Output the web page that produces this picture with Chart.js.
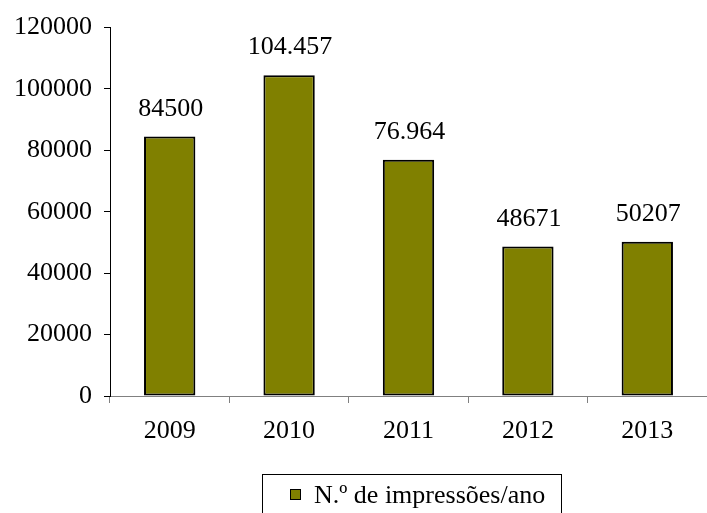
<!DOCTYPE html>
<html>
<head>
<meta charset="utf-8">
<style>
  html, body { margin: 0; padding: 0; background: #fff; }
  #wrap { width: 707px; height: 513px; }
</style>
<script src="https://cdn.jsdelivr.net/npm/chart.js@4/dist/chart.umd.min.js"></script>
</head>
<body>
<div id="wrap"><canvas id="chart" width="707" height="513"></canvas></div>
<script>
        // Data
        const years = ['2009', '2010', '2011', '2012', '2013'];
        const impressions = [84500, 104457, 76964, 48671, 50207];
        const valueLabels = ['84500', '104.457', '76.964', '48671', '50207'];
        const yTicks = [0, 20000, 40000, 60000, 80000, 100000, 120000];
        const seriesName = 'N.º de impressões/ano';

        const serif = '"Liberation Serif", "Times New Roman", serif';
        const olive = '#808000';

        // Value labels above the bars
        const valueLabelPlugin = {
            id: 'valueLabels',
            afterDatasetsDraw(chart) {
                const ctx = chart.ctx;
                const meta = chart.getDatasetMeta(0);
                ctx.save();
                ctx.font = '26px ' + serif;
                ctx.fillStyle = '#000';
                ctx.textAlign = 'center';
                ctx.textBaseline = 'alphabetic';
                meta.data.forEach((bar, i) => {
                    ctx.fillText(valueLabels[i], bar.x + 1, bar.y - 21);
                });
                ctx.restore();
            }
        };

        // Framed legend at the bottom
        const legendBoxPlugin = {
            id: 'legendBox',
            afterDraw(chart) {
                const ctx = chart.ctx;
                ctx.save();
                ctx.strokeStyle = '#000';
                ctx.lineWidth = 1;
                ctx.strokeRect(262.5, 474.5, 299, 50);
                // marker
                ctx.fillStyle = olive;
                ctx.fillRect(290, 489, 11, 11);
                ctx.strokeRect(290.5, 489.5, 10, 10);
                ctx.font = '26px ' + serif;
                ctx.fillStyle = '#000';
                ctx.textBaseline = 'alphabetic';
                ctx.fillText(seriesName, 314, 503);
                ctx.restore();
            }
        };

        const myChart = new Chart(document.getElementById('chart'), {
            type: 'bar',
            data: {
                labels: years,
                datasets: [{
                    label: seriesName,
                    data: impressions,
                    backgroundColor: olive,
                    borderColor: '#000',
                    borderWidth: 2,
                    borderSkipped: false,
                    barPercentage: 0.43,
                    categoryPercentage: 1
                }]
            },
            options: {
                responsive: false,
                animation: false,
                layout: { padding: { top: 26, right: 0, left: 0, bottom: 0 } },
                plugins: {
                    legend: { display: false },
                    tooltip: { enabled: false }
                },
                scales: {
                    x: {
                        offset: true,
                        grid: {
                            display: true,
                            offset: true,
                            drawOnChartArea: false,
                            drawTicks: true,
                            tickLength: 7,
                            color: '#808080'
                        },
                        border: { display: true, color: '#808080', width: 1 },
                        ticks: {
                            color: '#000',
                            font: { family: serif, size: 26 },
                            padding: 13,
                            maxRotation: 0
                        },
                        afterFit(scale) { scale.height = 117; }
                    },
                    y: {
                        min: 0,
                        max: 120000,
                        afterBuildTicks(scale) {
                            scale.ticks = yTicks.map(v => ({ value: v }));
                        },
                        grid: {
                            display: true,
                            drawOnChartArea: false,
                            drawTicks: true,
                            tickLength: 6,
                            color: '#000'
                        },
                        border: { display: true, color: '#000', width: 1 },
                        ticks: {
                            color: '#000',
                            font: { family: serif, size: 26 },
                            padding: 12,
                            callback: v => String(v)
                        },
                        afterFit(scale) { scale.width = 110; }
                    }
                }
            },
            plugins: [valueLabelPlugin, legendBoxPlugin]
        });
</script>
</body>
</html>
